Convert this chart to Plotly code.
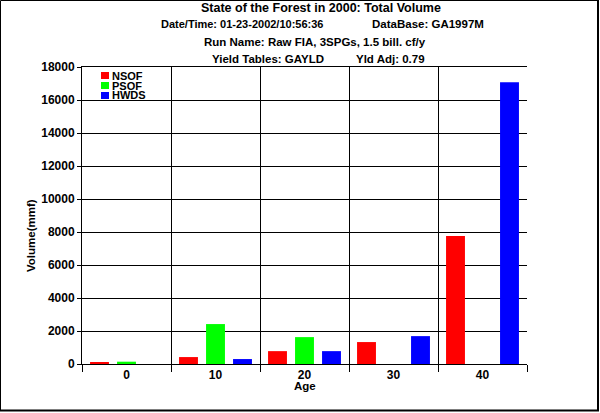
import plotly.graph_objects as go

ages   = ['0', '10', '20', '30', '40']
series = ['NSOF', 'PSOF', 'HWDS']
nsof   = [80, 420, 780, 1330, 7760]
psof   = [140, 2420, 1630, 0, 0]
hwds   = [0, 300, 780, 1690, 17080]
colors = ['#ff0000', '#00ff00', '#0000ff']

# text, left x (px), centre y (px), font size
title_lines = [
    ('State of the Forest in 2000: Total Volume', 199, 8, 12.5),
    ('Date/Time: 01-23-2002/10:56:36', 159, 24, 11),
    ('DataBase: GA1997M', 370, 24, 11.5),
    ('Run Name: Raw FIA, 3SPGs, 1.5 bill. cf/y', 202, 42, 11.5),
    ('Yield Tables: GAYLD', 210, 59, 11.5),
    ('Yld Adj: 0.79', 354, 59, 11.5),
]

W, H = 600, 413
L, R, T, B = 82, 527, 67, 364   # plot area in pixels
FONT = 'Arial, Liberation Sans, sans-serif'


def px_x(p):
    return (p - L) / (R - L)


def px_y(p):
    return (B - p) / (B - T)


fig = go.Figure()
for name, vals, c in zip(series, [nsof, psof, hwds], colors):
    fig.add_trace(go.Bar(x=ages, y=vals, name=name, marker_color=c,
                         marker_line_width=0))

annos = []
for txt, x0, yc, fs in title_lines:
    annos.append(dict(text=txt, x=px_x(x0), y=px_y(yc), xref='paper', yref='paper',
                      xanchor='left', yanchor='middle', showarrow=False,
                      font=dict(size=fs, weight='bold', color='black')))

annos.append(dict(text='Volume(mmf)', textangle=-90, x=px_x(31), y=px_y(236),
                  xanchor='center', yanchor='middle',
                  xref='paper', yref='paper', showarrow=False,
                  font=dict(size=11.5, weight='bold', color='black')))
annos.append(dict(text='Age', x=px_x(305), y=px_y(386), xanchor='center', yanchor='middle',
                  xref='paper', yref='paper', showarrow=False,
                  font=dict(size=11.5, weight='bold', color='black')))

# hand-drawn legend (tight spacing)
shapes = []
for i, (name, c) in enumerate(zip(series, colors)):
    yc = 75.5 + i * 10
    shapes.append(dict(type='rect', xref='paper', yref='paper',
                       x0=px_x(101), x1=px_x(109), y0=px_y(yc - 3.5), y1=px_y(yc + 3.5),
                       fillcolor=c, line_width=0))
    annos.append(dict(text=name, x=px_x(111), y=px_y(yc), xref='paper', yref='paper',
                      xanchor='left', yanchor='middle', showarrow=False, borderpad=0,
                      font=dict(size=11, weight='bold', color='black')))

# outer frame with heavier right/bottom edge
shapes.append(dict(type='line', xref='paper', yref='paper', x0=px_x(0.5), x1=px_x(0.5),
                   y0=px_y(0.5), y1=px_y(410), line=dict(color='black', width=1)))
shapes.append(dict(type='line', xref='paper', yref='paper', x0=px_x(0.5), x1=px_x(598),
                   y0=px_y(0.5), y1=px_y(0.5), line=dict(color='black', width=1)))
shapes.append(dict(type='line', xref='paper', yref='paper', x0=px_x(598), x1=px_x(598),
                   y0=px_y(0), y1=px_y(411), line=dict(color='black', width=2)))
shapes.append(dict(type='line', xref='paper', yref='paper', x0=px_x(0), x1=px_x(599),
                   y0=px_y(410.5), y1=px_y(410.5), line=dict(color='black', width=2)))

fig.update_layout(
    width=W, height=H,
    margin=dict(l=L, r=W - R, t=T, b=H - B, pad=0),
    paper_bgcolor='white', plot_bgcolor='white',
    font=dict(family=FONT, color='black'),
    barmode='group', bargap=0.09, bargroupgap=0.3,
    showlegend=False,
    annotations=annos, shapes=shapes,
    xaxis=dict(type='category', tickson='boundaries', ticks='outside', ticklen=7,
               tickcolor='black', tickwidth=1,
               showgrid=True, gridcolor='black', gridwidth=1,
               showline=True, linecolor='black', linewidth=1, mirror=True,
               tickfont=dict(size=12, weight='bold'), ticklabelstandoff=0),
    yaxis=dict(range=[0, 18000], dtick=2000, tickformat='d', ticks='outside', ticklen=4,
               tickcolor='black', showgrid=True, gridcolor='black', gridwidth=1,
               showline=True, linecolor='black', linewidth=1, zeroline=False,
               tickfont=dict(size=12, weight='bold'), ticklabelstandoff=0),
)

# page has a default 8px body margin; drop it so the figure fills the window
fig.write_html('out.html', config={'displayModeBar': False},
               post_script="document.body.style.margin='0';")
